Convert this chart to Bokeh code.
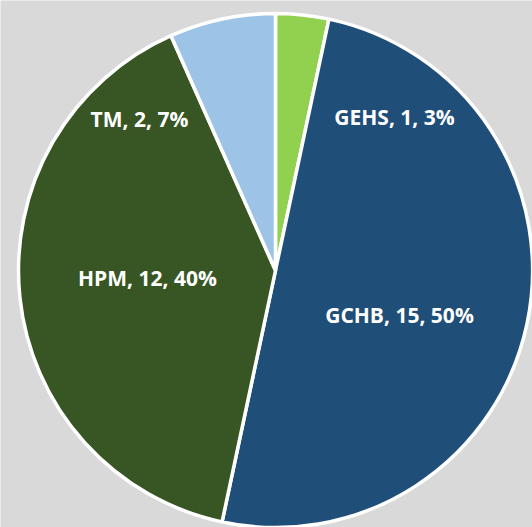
import math
from bokeh.plotting import figure
from bokeh.models import Range1d, ColumnDataSource
from bokeh.core.properties import value
from bokeh.embed import file_html
from bokeh.resources import INLINE

categories = ["GEHS", "GCHB", "HPM", "TM"]
counts = [1, 15, 12, 2]
percents = ["3%", "50%", "40%", "7%"]
colors = ["#92d050", "#1f4e79", "#375623", "#9dc3e6"]

W, H = 532, 527
CX, CY, R = 275, H - 270, 257
# label anchor positions (layout, in pixels from top-left)
label_px = [(394, 116), (399, 314), (147, 277), (139, 118)]

total = sum(counts)
starts, ends = [], []
cum = 0
for c in counts:
    starts.append(math.pi / 2 - 2 * math.pi * cum / total)
    cum += c
    ends.append(math.pi / 2 - 2 * math.pi * cum / total)

src = ColumnDataSource(dict(start=starts, end=ends, color=colors))

p = figure(width=W, height=H, output_backend="svg", toolbar_location=None,
           x_range=Range1d(0, W), y_range=Range1d(0, H), min_border=0)
p.axis.visible = False
p.grid.visible = False
p.outline_line_color = None
p.background_fill_color = "#d9d9d9"
p.border_fill_color = "#d9d9d9"

p.wedge(x=CX, y=CY, radius=R, start_angle="start", end_angle="end",
        direction="clock", fill_color="color", line_color="white",
        line_width=3.5, source=src)

texts = [f"{c}, {n}, {pc}" for c, n, pc in zip(categories, counts, percents)]
lsrc = ColumnDataSource(dict(x=[lx for lx, ly in label_px],
                             y=[H - ly for lx, ly in label_px], t=texts))
p.text(x="x", y="y", text="t", source=lsrc, text_color="white",
       text_font=value("Open Sans"), text_font_style="bold",
       text_font_size="21px", text_align="center", text_baseline="middle")

html = file_html(p, INLINE)
html = html.replace("<body>", '<body style="margin:0;background:#d9d9d9;overflow:hidden">', 1)
open("out.html", "w").write(html)
